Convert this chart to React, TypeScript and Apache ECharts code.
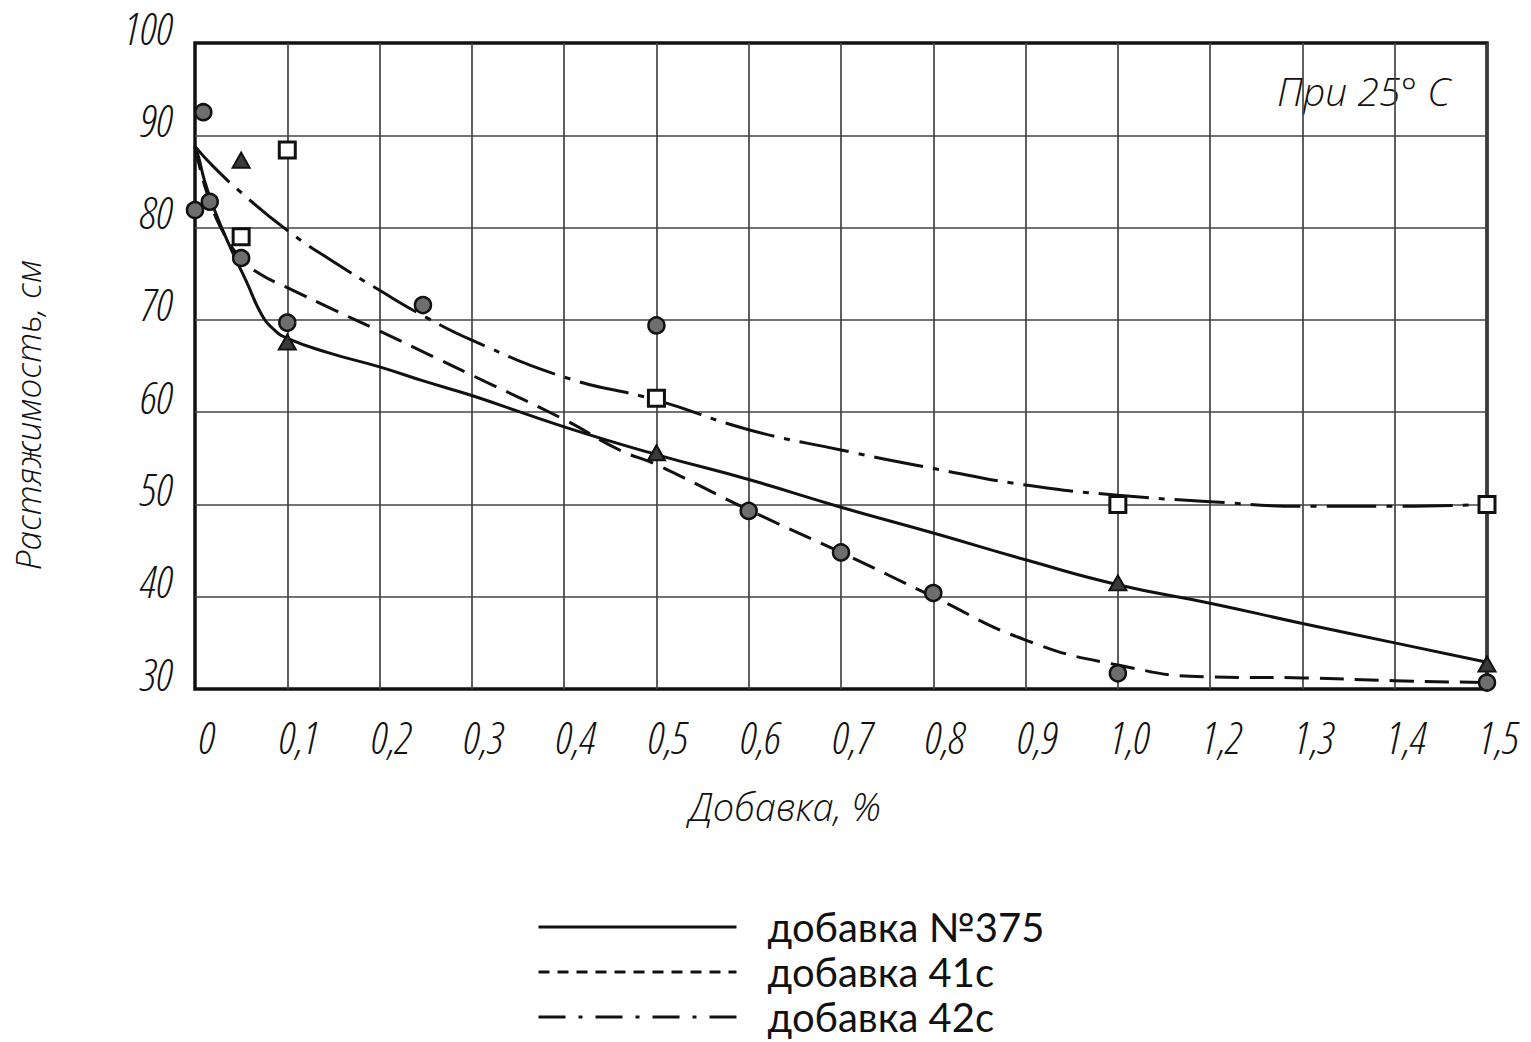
import { useEffect, useRef } from 'react';
import * as echarts from 'echarts';

// ---- axis ticks ----
const xTickValues = [0, 0.1, 0.2, 0.3, 0.4, 0.5, 0.6, 0.7, 0.8, 0.9, 1.0, 1.2, 1.3, 1.4, 1.5];
const xTickLabels = ['0', '0,1', '0,2', '0,3', '0,4', '0,5', '0,6', '0,7', '0,8', '0,9', '1,0', '1,2', '1,3', '1,4', '1,5'];
const yMin = 30;
const yMax = 100;
const yStep = 10;

// ---- curves [добавка %, растяжимость см] ----
const curve375: [number, number][] = [
  [0, 88.8], [0.004, 87.6], [0.01, 85.2], [0.02, 82.2], [0.038, 77.9], [0.056, 74.1],
  [0.072, 70.6], [0.085, 69.0], [0.1, 68.0], [0.146, 66.4], [0.2, 64.9], [0.25, 63.3],
  [0.3, 61.8], [0.4, 58.4], [0.5, 55.4], [0.6, 52.7], [0.7, 49.7], [0.8, 46.9],
  [0.9, 44.0], [1.0, 41.3], [1.2, 39.3], [1.3, 37.1], [1.4, 35.0], [1.5, 32.9],
];
const curve41c: [number, number][] = [
  [0, 88.8], [0.005, 86.6], [0.015, 83.2], [0.03, 79.6], [0.05, 76.6], [0.07, 75.0],
  [0.1, 73.5], [0.15, 71.1], [0.2, 68.8], [0.25, 66.4], [0.3, 64.0], [0.4, 59.2],
  [0.46, 55.9], [0.5, 54.3], [0.6, 49.4], [0.7, 44.8], [0.8, 40.0], [0.9, 35.3],
  [1.0, 32.6], [1.2, 31.3], [1.3, 31.2], [1.4, 30.9], [1.5, 30.7],
];
const curve42c: [number, number][] = [
  [0, 88.8], [0.02, 86.6], [0.05, 83.8], [0.1, 79.7], [0.15, 76.3], [0.2, 73.2],
  [0.25, 70.3], [0.3, 67.8], [0.4, 63.8], [0.5, 61.3], [0.6, 58.1], [0.7, 55.9],
  [0.8, 53.9], [0.9, 52.1], [1.0, 51.0], [1.2, 50.3], [1.3, 49.8], [1.4, 49.8], [1.5, 50.0],
];

// ---- experimental points ----
const circlePoints: [number, number][] = [
  [0, 81.9], [0.009, 92.5], [0.016, 82.8], [0.05, 76.7], [0.1, 69.7], [0.247, 71.6],
  [0.5, 69.4], [0.6, 49.3], [0.7, 44.8], [0.8, 40.4], [1.0, 31.7], [1.5, 30.7],
];
const trianglePoints: [number, number][] = [
  [0.05, 87.3], [0.1, 67.6], [0.5, 55.6], [1.0, 41.5], [1.5, 32.7],
];
const squarePoints: [number, number][] = [
  [0.1, 88.4], [0.05, 79.0], [0.5, 61.5], [1.0, 50.0], [1.5, 50.0],
];

const seriesNames = ['добавка №375', 'добавка 41с', 'добавка 42с'];
const noteText = 'При 25° С';
const xName = 'Добавка, %';
const yName = 'Растяжимость, см';

// the horizontal scale skips 1,1: tick i sits at axis position i*0.1
const toAxis = (x: number): number => {
  for (let i = 0; i < xTickValues.length - 1; i++) {
    const a = xTickValues[i];
    const b = xTickValues[i + 1];
    if (x <= b + 1e-9) {
      return (i + (x - a) / (b - a)) * 0.1;
    }
  }
  return (xTickValues.length - 1) * 0.1;
};
const mapPts = (pts: [number, number][]) => pts.map(([x, y]) => [toAxis(x), y]);

// narrow light italic, close to a drafting font
const NUM_FAMILY = "'Open Sans';font-stretch:condensed";
const NAME_FAMILY = "'Open Sans'";
const LEGEND_FONT = "Lato, 'Noto Sans', 'Open Sans', sans-serif";
const INK = '#111';

export default function App() {
  const ref = useRef<HTMLDivElement>(null);

  useEffect(() => {
    if (!ref.current) return;
    const chart = echarts.init(ref.current, null, { renderer: 'svg' });

    const numStyle = {
      fontFamily: NUM_FAMILY,
      fontStyle: 'italic' as const,
      fontWeight: 300 as any,
      color: INK,
      fontSize: 45,
    };
    const nameStyle = {
      fontFamily: NAME_FAMILY,
      fontStyle: 'italic' as const,
      fontWeight: 300 as any,
      color: INK,
      fontSize: 38,
    };

    const lineStyles = [
      { color: INK, width: 3, type: 'solid' as any },
      { color: INK, width: 3, type: [24, 11] as any },
      { color: INK, width: 3, type: [50, 10, 6, 10] as any },
    ];
    const legendLineStyles = [
      { color: INK, width: 3, type: 'solid' as any },
      { color: INK, width: 3, type: [11, 8] as any },
      { color: INK, width: 3, type: [27, 13, 4, 13] as any },
    ];
    const curves = [curve375, curve41c, curve42c];

    const option: any = {
      animation: false,
      backgroundColor: '#fff',
      grid: {
        left: 195,
        top: 43,
        width: 1292,
        height: 646,
        show: true,
        borderColor: INK,
        borderWidth: 3.5,
        backgroundColor: 'transparent',
        containLabel: false,
        outerBoundsMode: 'none',
      },
      xAxis: {
        type: 'value',
        min: 0,
        max: (xTickValues.length - 1) * 0.1,
        interval: 0.1,
        axisLine: { show: false },
        axisTick: { show: false },
        splitLine: {
          show: true,
          showMinLine: false,
          showMaxLine: false,
          lineStyle: { color: '#444', width: 1.7 },
        },
        axisLabel: {
          ...numStyle,
          margin: 42,
          padding: [0, 0, 0, 24],
          formatter: (v: number) => xTickLabels[Math.round(v * 10)] ?? '',
        },
        name: xName,
        nameLocation: 'middle',
        nameGap: 98,
        nameTextStyle: { ...nameStyle, padding: [0, 112, 0, 0] },
      },
      yAxis: {
        type: 'value',
        min: yMin,
        max: yMax,
        interval: yStep,
        axisLine: { show: false },
        axisTick: { show: false },
        splitLine: {
          show: true,
          showMinLine: false,
          showMaxLine: false,
          lineStyle: { color: '#444', width: 1.7 },
        },
        axisLabel: {
          ...numStyle,
          margin: 22,
          verticalAlign: 'bottom',
          lineHeight: 32,
        },
        name: yName,
        nameLocation: 'middle',
        nameGap: 150,
        nameRotate: 90,
        nameTextStyle: { ...nameStyle, fontSize: 35, padding: [0, 98, 0, 0] },
      },
      legend: {
        orient: 'vertical',
        left: 537,
        top: 907,
        height: 130,
        padding: 0,
        itemWidth: 198,
        itemHeight: 14,
        itemGap: 5,
        selectedMode: false,
        textStyle: {
          fontFamily: LEGEND_FONT,
          fontSize: 40,
          lineHeight: 40,
          color: INK,
          padding: [0, 0, 0, 26],
        },
        data: seriesNames.map((name, i) => ({
          name,
          itemStyle: { color: 'transparent', borderWidth: 0, opacity: 0 },
          lineStyle: legendLineStyles[i],
        })),
      },
      graphic: [
        {
          type: 'text',
          x: 1277,
          y: 90,
          style: {
            text: noteText,
            font: "italic 300 39px 'Open Sans'",
            fill: INK,
            verticalAlign: 'middle',
          },
        },
      ],
      series: [
        ...curves.map((c, i) => ({
          name: seriesNames[i],
          type: 'line',
          data: mapPts(c),
          smooth: 0.5,
          symbol: 'none',
          itemStyle: { color: INK },
          lineStyle: lineStyles[i],
          z: 3,
          silent: true,
        })),
        {
          type: 'scatter',
          data: mapPts(circlePoints),
          symbol: 'circle',
          symbolSize: 16,
          itemStyle: { color: '#6e6e6e', borderColor: INK, borderWidth: 2.5, opacity: 1 },
          clip: false,
          z: 5,
          silent: true,
        },
        {
          type: 'scatter',
          data: mapPts(trianglePoints),
          symbol: 'triangle',
          symbolSize: [17, 15],
          itemStyle: { color: '#3a3a3a', borderColor: INK, borderWidth: 2, opacity: 1 },
          clip: false,
          z: 5,
          silent: true,
        },
        {
          type: 'scatter',
          data: mapPts(squarePoints),
          symbol: 'rect',
          symbolSize: 16,
          itemStyle: { color: '#fff', borderColor: INK, borderWidth: 3, opacity: 1 },
          clip: false,
          z: 5,
          silent: true,
        },
      ],
    };

    chart.setOption(option);
    return () => chart.dispose();
  }, []);

  return (
    <div
      ref={ref}
      style={{ position: 'absolute', left: 0, top: 0, width: 1531, height: 1042, background: '#fff' }}
    />
  );
}
